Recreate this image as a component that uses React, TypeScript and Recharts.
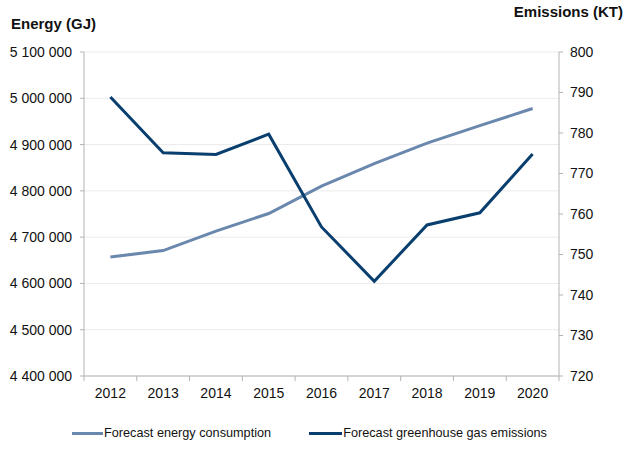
import { LineChart, Line, XAxis, YAxis, CartesianGrid, Legend } from "recharts";

const years = ["2012", "2013", "2014", "2015", "2016", "2017", "2018", "2019", "2020"];
const energyGJ = [4657000, 4671000, 4713000, 4751000, 4810000, 4859000, 4903000, 4941000, 4978000];
const emissionsKT = [788.9, 775.1, 774.7, 779.7, 756.8, 743.4, 757.3, 760.3, 774.8];
const energyTicks = [4400000, 4500000, 4600000, 4700000, 4800000, 4900000, 5000000, 5100000];
const emissionTicks = [720, 730, 740, 750, 760, 770, 780, 790, 800];

const data = years.map((year, i) => ({
  year,
  energy: energyGJ[i],
  emissions: emissionsKT[i]
}));

const FONT = '"Liberation Sans", Arial, Helvetica, sans-serif';
const AXIS_GREY = "#b4b4b4";
const ENERGY_COLOR = "#6a88ae";
const EMISSIONS_COLOR = "#093f6e";

const CHART_W = 626;
const CHART_H = 452;
const LEFT_W = 84;
const RIGHT_W = 67;
const BAND = (CHART_W - LEFT_W - RIGHT_W) / years.length;

const spaced = (v: number) => String(v).replace(/\B(?=(\d{3})+(?!\d))/g, " ");

function YearTick(props: any) {
  const { x, y, payload, index } = props;
  const axisY = y - 12;
  const left = x - BAND / 2;
  const right = x + BAND / 2;
  return (
    <g>
      <line x1={left} y1={axisY} x2={left} y2={axisY + 5} stroke={AXIS_GREY} />
      {index === years.length - 1 && (
        <line x1={right} y1={axisY} x2={right} y2={axisY + 5} stroke={AXIS_GREY} />
      )}
      <text x={x} y={y} dy="0.71em" textAnchor="middle" fontSize={14} fill="#111" fontFamily={FONT}>
        {payload.value}
      </text>
    </g>
  );
}

function LegendBox({ payload }: any) {
  return (
    <div style={{ height: 34, display: "flex", paddingLeft: 72, fontFamily: FONT, fontSize: 12.7, color: "#111" }}>
      {(payload || []).map((entry: any, i: number) => (
        <div key={entry.value} style={{ display: "flex", alignItems: "center", height: 16, marginTop: 7, marginRight: i === 0 ? 38 : 0 }}>
          <span style={{ display: "inline-block", width: i === 0 ? 31 : 33, height: 3, background: entry.color, marginRight: 1 }} />
          <span>{entry.value}</span>
        </div>
      ))}
    </div>
  );
}

export default function App() {
  return (
    <div style={{ position: "absolute", left: 0, top: 0, width: CHART_W, height: CHART_H, background: "#fff" }}>
      <LineChart width={CHART_W} height={CHART_H} data={data} margin={{ top: 52, right: 0, bottom: 0, left: 0 }}>
        <CartesianGrid yAxisId="energy" vertical={false} stroke="#ebebeb" />
        <XAxis
          dataKey="year"
          height={42}
          padding={{ left: BAND / 2, right: BAND / 2 }}
          axisLine={{ stroke: AXIS_GREY }}
          tickLine={false}
          tickSize={4}
          tickMargin={8}
          interval={0}
          tick={<YearTick />}
        />
        <YAxis
          yAxisId="energy"
          orientation="left"
          width={LEFT_W}
          domain={[4400000, 5100000]}
          ticks={energyTicks}
          tickFormatter={spaced}
          axisLine={{ stroke: AXIS_GREY }}
          tickLine={{ stroke: AXIS_GREY }}
          tickSize={4}
          tickMargin={8}
          tick={{ fontSize: 14, fill: "#111", fontFamily: FONT }}
          label={{
            content: ({ viewBox }: any) => (
              <text x={viewBox.x + 11} y={viewBox.y - 23} fontSize={15} fontWeight="bold" fill="#111" fontFamily={FONT}>
                Energy (GJ)
              </text>
            )
          }}
        />
        <YAxis
          yAxisId="emissions"
          orientation="right"
          width={RIGHT_W}
          domain={[720, 800]}
          ticks={emissionTicks}
          axisLine={{ stroke: AXIS_GREY }}
          tickLine={{ stroke: AXIS_GREY }}
          tickSize={4}
          tickMargin={7}
          tick={{ fontSize: 14, fill: "#111", fontFamily: FONT }}
          label={{
            content: ({ viewBox }: any) => (
              <text x={viewBox.x + viewBox.width - 3} y={viewBox.y - 35} textAnchor="end" fontSize={15} fontWeight="bold" fill="#111" fontFamily={FONT}>
                Emissions (KT)
              </text>
            )
          }}
        />
        <Legend verticalAlign="bottom" content={<LegendBox />} />
        <Line
          yAxisId="energy"
          dataKey="energy"
          name="Forecast energy consumption"
          stroke={ENERGY_COLOR}
          strokeWidth={3}
          dot={false}
          isAnimationActive={false}
        />
        <Line
          yAxisId="emissions"
          dataKey="emissions"
          name="Forecast greenhouse gas emissions"
          stroke={EMISSIONS_COLOR}
          strokeWidth={3}
          dot={false}
          isAnimationActive={false}
        />
      </LineChart>
    </div>
  );
}
